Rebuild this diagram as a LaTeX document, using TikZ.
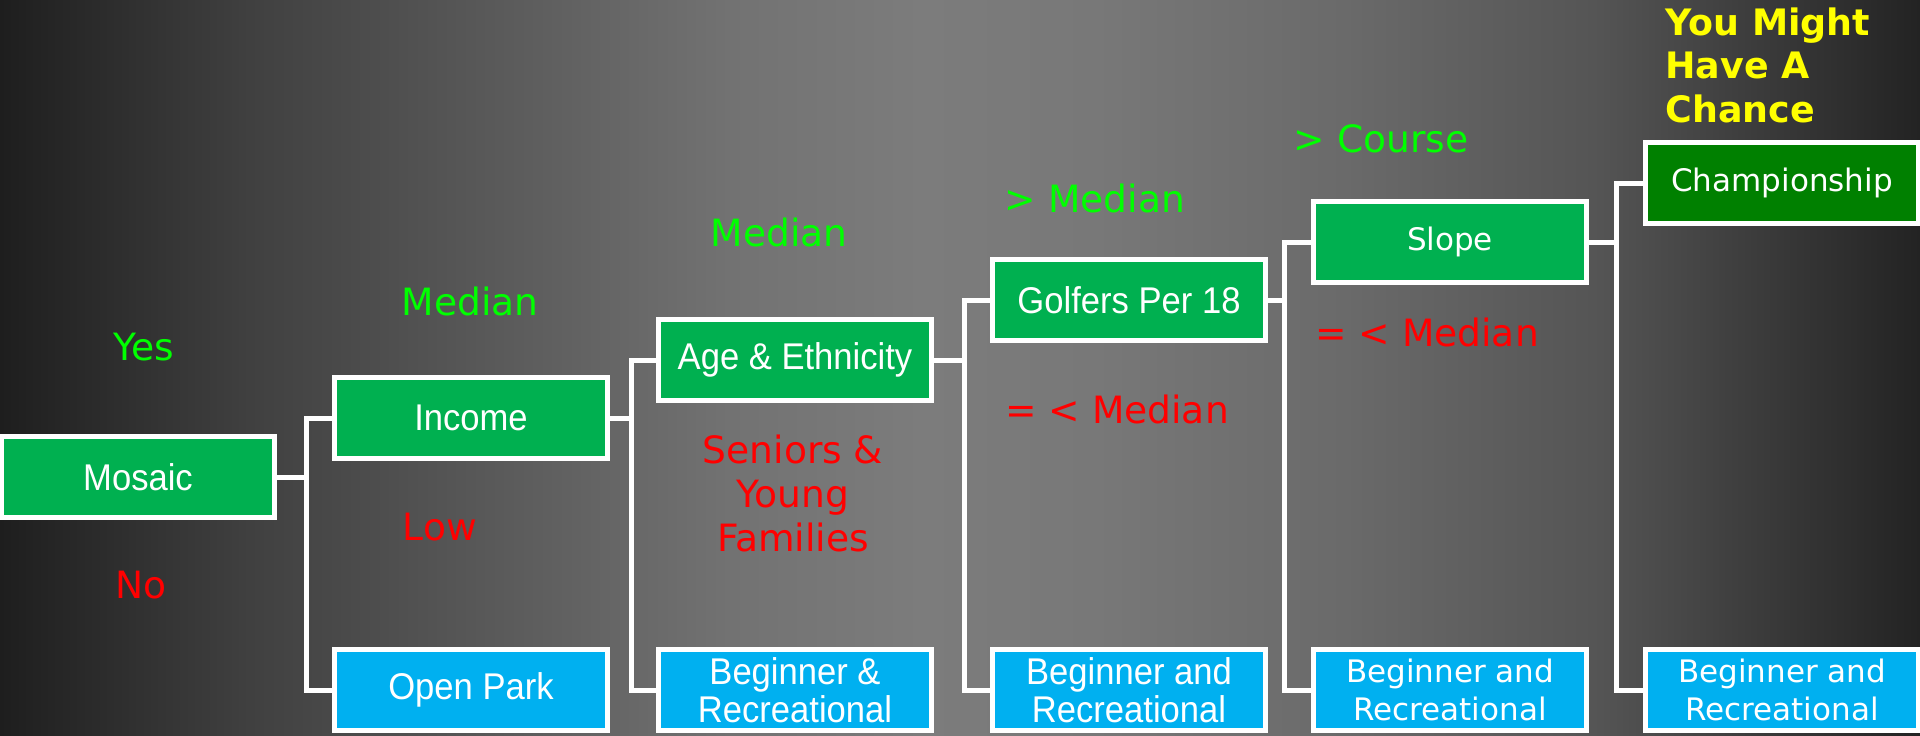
\documentclass[tikz,border=0pt]{standalone}
\usepackage{fontspec}
\setmainfont{DejaVu Sans}
\newfontfamily\gothicfont[FakeStretch=0.93]{Liberation Sans}
\newfontfamily\verdfont{DejaVu Sans}

\definecolor{boxgreen}{HTML}{00B050}
\definecolor{boxblue}{HTML}{00B0F0}
\definecolor{champgreen}{HTML}{008000}
\definecolor{yesgreen}{HTML}{00FF00}
\definecolor{nored}{HTML}{FF0000}
\definecolor{hiyellow}{HTML}{FFFF00}

% backdrop: dark at both sides, light grey a little left of centre
\definecolor{bgA}{HTML}{1E1E1E}
\definecolor{bgB}{HTML}{404040}
\definecolor{bgC}{HTML}{5A5A5A}
\definecolor{bgD}{HTML}{727272}
\definecolor{bgE}{HTML}{7C7C7C}
\definecolor{bgF}{HTML}{787878}
\definecolor{bgG}{HTML}{6A6A6A}
\definecolor{bgH}{HTML}{555555}
\definecolor{bgI}{HTML}{3A3A3A}
\definecolor{bgJ}{HTML}{232323}
\pgfdeclarehorizontalshading{backdrop}{100bp}{%
  color(0bp)=(bgA); color(25bp)=(bgA); color(31.5bp)=(bgB);
  color(38bp)=(bgC); color(44bp)=(bgD); color(49bp)=(bgE);
  color(53.5bp)=(bgF); color(60bp)=(bgG); color(66.5bp)=(bgH);
  color(71bp)=(bgI); color(75bp)=(bgJ); color(100bp)=(bgJ)}

\tikzset{
  box/.style={draw=white, line width=2.5pt, minimum width=136.5pt,
    minimum height=40.5pt, inner sep=0pt, align=center, text=white},
  gbox/.style={box, fill=boxgreen},
  bbox/.style={box, fill=boxblue},
  cbox/.style={box, fill=champgreen},
  gothic/.style={font=\gothicfont\fontsize{18.6pt}{19pt}\selectfont},
  verd/.style={font=\verdfont\fontsize{15.5pt}{19pt}\selectfont},
  lbl/.style={font=\verdfont\fontsize{18.8pt}{22pt}\selectfont,
    anchor=base, inner sep=0pt, align=center},
  yes/.style={lbl, text=yesgreen},
  no/.style={lbl, text=nored},
  conn/.style={draw=white, line width=2.5pt},
}

\begin{document}
\begin{tikzpicture}[x=0.5pt, y=-0.5pt]
  % canvas and background
  \useasboundingbox (0,0) rectangle (1920,735);
  \clip (0,0) rectangle (1920,735);
  \shade[shading=backdrop] (0,0) rectangle (1920,735);

  % decision boxes
  \node[gbox, gothic] (mos) at (138,477) {Mosaic};
  \node[gbox, gothic] (inc) at (471,418) {Income};
  \node[bbox, gothic] (opk) at (471,690) {Open Park};
  \node[gbox, gothic] (age) at (795,360) {Age \& Ethnicity};
  \node[bbox, gothic] (br2) at (795,690) {Beginner \&\\Recreational};
  \node[gbox, gothic] (gol) at (1129,300) {Golfers Per 18};
  \node[bbox, gothic] (br3) at (1129,690) {Beginner and\\Recreational};
  \node[gbox, verd] (slo) at (1450,242) {Slope};
  \node[bbox, verd] (br4) at (1450,690) {Beginner and\\Recreational};
  \node[cbox, verd] (cha) at (1782,183) {Championship};
  \node[bbox, verd] (br5) at (1782,690) {Beginner and\\Recreational};

  % bus positions of the bracket connectors
  \coordinate (b1) at (306,0);
  \coordinate (b2) at (631,0);
  \coordinate (b3) at (964,0);
  \coordinate (b4) at (1284,0);
  \coordinate (b5) at (1616,0);

  % bracket connectors: parent -> bus -> both children
  \draw[conn] (mos.east) -- (mos.east -| b1);
  \draw[conn] (inc.west) -- (inc.west -| b1) -- (opk.west -| b1) -- (opk.west);
  \draw[conn] (inc.east) -- (inc.east -| b2);
  \draw[conn] (age.west) -- (age.west -| b2) -- (br2.west -| b2) -- (br2.west);
  \draw[conn] (age.east) -- (age.east -| b3);
  \draw[conn] (gol.west) -- (gol.west -| b3) -- (br3.west -| b3) -- (br3.west);
  \draw[conn] (gol.east) -- (gol.east -| b4);
  \draw[conn] (slo.west) -- (slo.west -| b4) -- (br4.west -| b4) -- (br4.west);
  \draw[conn] (slo.east) -- (slo.east -| b5);
  \draw[conn] (cha.west) -- (cha.west -| b5) -- (br5.west -| b5) -- (br5.west);

  % branch labels
  \node[yes] (lyes) at (144,360) {Yes};
  \node[no]  (lno)  at (141,598) {No};
  \node[yes] (lmed1) at (470,315) {Median};
  \node[no]  (llow) at (440,540) {Low};
  \node[yes] (lmed2) at (779,246) {Median};
  \node[no, anchor=north] (lsen) at (793,435) {Seniors \&\\Young\\Families};
  \node[yes] (lgt1) at (1095,212) {> Median};
  \node[no]  (lle1) at (1117,423) {= < Median};
  \node[yes] (lgt2) at (1381,152) {> Course};
  \node[no]  (lle2) at (1427,346) {= < Median};
  \node[anchor=north west, inner sep=0pt, align=left, text=hiyellow,
        font=\verdfont\bfseries\fontsize{18.2pt}{21.8pt}\selectfont]
        (lchance) at (1665,7) {You Might\\Have A\\Chance};
\end{tikzpicture}
\end{document}
